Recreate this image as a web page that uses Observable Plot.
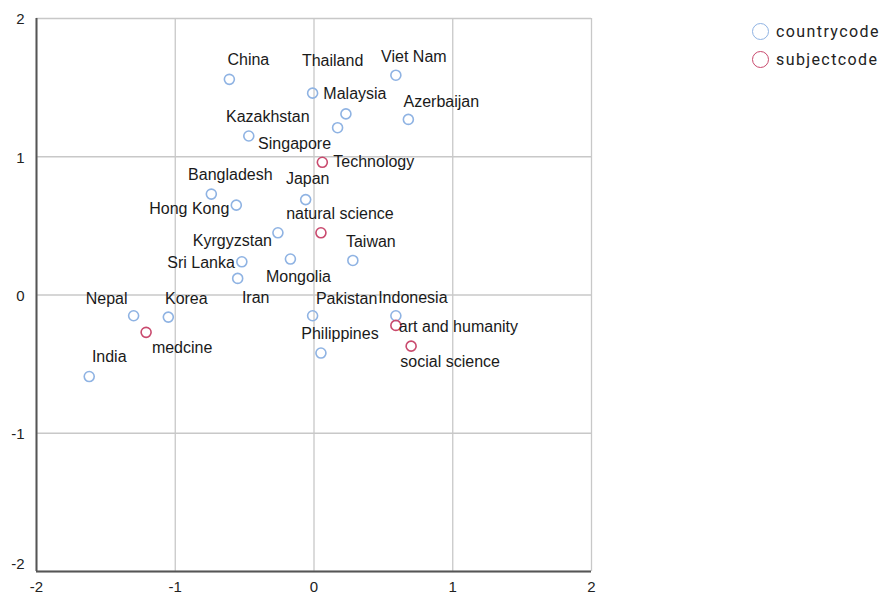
<!DOCTYPE html>
<html>
<head>
<meta charset="utf-8">
<script src="https://cdn.jsdelivr.net/npm/d3@7"></script>
<script src="https://cdn.jsdelivr.net/npm/@observablehq/plot@0.6"></script>
<style>
  html, body { margin: 0; padding: 0; background: #fff; }
  #wrap { position: relative; width: 887px; height: 598px; }
  #legend { position: absolute; left: 752px; top: 17px; font-family: Roboto, "Liberation Sans", sans-serif; font-size: 16px; color: #222; letter-spacing: 1.4px; }
  #legend .row { display: flex; align-items: center; height: 28px; }
  #legend .sw { width: 17px; height: 17px; border-radius: 50%; box-sizing: border-box; border: 1.6px solid; margin-right: 7px; }
</style>
</head>
<body>
<div id="wrap"><div id="chart"></div><div id="legend"></div></div>
<script>
// ---- data ----
const countryNames = ["China","Thailand","Viet Nam","Malaysia","Azerbaijan","Kazakhstan","Singapore","Bangladesh","Japan","Hong Kong","Kyrgyzstan","Taiwan","Sri Lanka","Mongolia","Iran","Nepal","Korea","India","Pakistan","Indonesia","Philippines"];
const countryDim1 = [-0.61,-0.01,0.59,0.23,0.68,-0.47,0.17,-0.74,-0.06,-0.56,-0.26,0.28,-0.52,-0.17,-0.55,-1.30,-1.05,-1.62,-0.01,0.59,0.05];
const countryDim2 = [1.56,1.46,1.59,1.31,1.27,1.15,1.21,0.73,0.69,0.65,0.45,0.25,0.24,0.26,0.12,-0.15,-0.16,-0.59,-0.15,-0.15,-0.42];

const subjectNames = ["Technology","natural science","art and humanity","social science","medcine"];
const subjectDim1 = [0.06,0.05,0.59,0.70,-1.21];
const subjectDim2 = [0.96,0.45,-0.22,-0.37,-0.27];

const seriesNames = ["countrycode","subjectcode"];
const axisTicks = [-2,-1,0,1,2];

// ---- styling / layout ----
const colors = {countrycode: "#8fb3e3", subjectcode: "#c94a6e"};
const labelFont = "'Liberation Sans', Arial, sans-serif";
// label placement: [textAnchor, dx, dy]
const labelPlace = {
  "China": ["middle",19,-19], "Thailand": ["middle",20,-32], "Viet Nam": ["middle",18,-18],
  "Malaysia": ["middle",9,-20], "Azerbaijan": ["middle",33,-18], "Kazakhstan": ["middle",19,-19],
  "Singapore": ["middle",-43,16], "Bangladesh": ["middle",19,-19], "Japan": ["middle",2,-21],
  "Hong Kong": ["end",-7,4], "Kyrgyzstan": ["end",-6,8], "Taiwan": ["middle",18,-19],
  "Sri Lanka": ["end",-7,1], "Mongolia": ["middle",8,18], "Iran": ["middle",18,19],
  "Nepal": ["middle",-27,-17], "Korea": ["middle",18,-18], "India": ["middle",20,-20],
  "Pakistan": ["middle",34,-17], "Indonesia": ["middle",17,-18], "Philippines": ["middle",19,-19],
  "Technology": ["start",11,0], "natural science": ["middle",19,-19], "art and humanity": ["start",3,1],
  "social science": ["middle",39,16], "medcine": ["middle",36,16]
};

const points = [
  ...countryNames.map((n,i) => ({name: n, x: countryDim1[i], y: countryDim2[i], series: seriesNames[0]})),
  ...subjectNames.map((n,i) => ({name: n, x: subjectDim1[i], y: subjectDim2[i], series: seriesNames[1]}))
];

const labelMarks = points.map(d => {
  const p = labelPlace[d.name] || ["middle",19,-19];
  return Plot.text([d], {x: "x", y: "y", text: "name", textAnchor: p[0], dx: p[1], dy: p[2], lineAnchor: "middle",
    fill: "#1a1a1a", fontSize: 16, fontFamily: labelFont});
});

const fmt = d => String(d);

const chart = Plot.plot({
  width: 887, height: 598,
  marginLeft: 36, marginTop: 18, marginRight: 296, marginBottom: 27,
  style: {fontFamily: labelFont, fontSize: "15px", color: "#222", background: "#fff", overflow: "visible"},
  x: {domain: [-2, 2], ticks: axisTicks},
  y: {domain: [-2, 2], ticks: axisTicks},
  marks: [
    Plot.gridX(axisTicks, {stroke: "#c8c8c8", strokeOpacity: 1, strokeWidth: 1.3}),
    Plot.gridY(axisTicks, {stroke: "#c8c8c8", strokeOpacity: 1, strokeWidth: 1.3}),
    Plot.ruleX([axisTicks[0]], {stroke: "#555", strokeWidth: 2}),
    Plot.ruleY([axisTicks[0]], {stroke: "#555", strokeWidth: 2}),
    Plot.axisX(axisTicks, {tickSize: 0, tickPadding: 10, fontSize: 15, fill: "#222", label: null, tickFormat: fmt}),
    Plot.axisY(axisTicks.slice(1), {tickSize: 0, tickPadding: 12, dy: 1, fontSize: 15, fill: "#222", label: null, tickFormat: fmt}),
    Plot.axisY(axisTicks.slice(0,1), {tickSize: 0, tickPadding: 12, dy: -7, fontSize: 15, fill: "#222", label: null, tickFormat: fmt}),
    Plot.dot(points, {x: "x", y: "y", r: 5, stroke: d => colors[d.series], strokeWidth: 1.6, fill: "none"}),
    ...labelMarks
  ]
});
document.getElementById("chart").appendChild(chart);

const legend = document.getElementById("legend");
seriesNames.forEach(s => {
  const row = document.createElement("div");
  row.className = "row";
  const sw = document.createElement("span");
  sw.className = "sw";
  sw.style.borderColor = colors[s];
  const t = document.createElement("span");
  t.textContent = s;
  row.appendChild(sw); row.appendChild(t);
  legend.appendChild(row);
});
</script>
</body>
</html>
